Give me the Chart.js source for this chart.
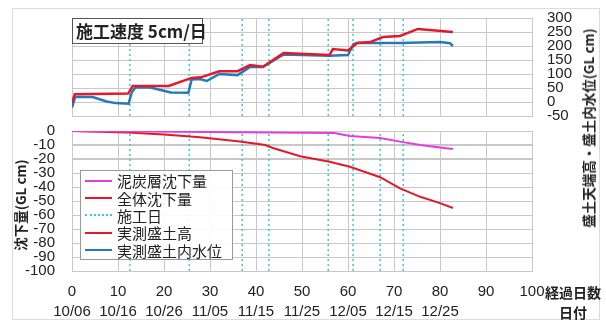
<!DOCTYPE html>
<html>
<head>
<meta charset="utf-8">
<script src="https://cdn.jsdelivr.net/npm/chart.js@4.4.1/dist/chart.umd.min.js"></script>
<style>
  body { margin: 0; background: #fff; }
  #wrap { position: relative; width: 606px; height: 325px; overflow: hidden; font-family: 'Noto Sans CJK JP', sans-serif; color: #222; }
  #frame { position: absolute; left: 12px; top: 8px; width: 588px; height: 312px; border: 1px solid #dcdcdc; box-sizing: border-box; }
  canvas { position: absolute; left: 0; }
  #topChart { top: 0; }
  #bottomChart { top: 120px; }
  .speed { position: absolute; left: 72px; top: 18px; width: 131px; height: 26px; box-sizing: border-box; border: 1px solid #555; background: #fff; font-weight: bold; font-size: 17px; line-height: 24px; padding-left: 3px; white-space: nowrap; }
  .vtitle { position: absolute; transform: translate(-50%, -50%) rotate(-90deg); white-space: nowrap; font-weight: bold; font-size: 13.5px; }
  .xnote { position: absolute; font-weight: bold; font-size: 14px; line-height: 20px; white-space: nowrap; }
  #legend { position: absolute; left: 80px; top: 170px; width: 153px; height: 90px; box-sizing: border-box; border: 1px solid #999; background: rgba(255,255,255,0.9); padding-top: 1px; }
  .item { display: flex; align-items: center; height: 17.4px; font-size: 15px; white-space: nowrap; }
  .sample { display: inline-block; width: 27px; margin: 0 5px 0 4px; border-top-width: 2px; }
</style>
</head>
<body>
<div id="wrap">
  <div id="frame"></div>
  <canvas id="topChart" width="606" height="125"></canvas>
  <canvas id="bottomChart" width="606" height="205"></canvas>
  <div class="speed">施工速度 5cm/日</div>
  <div class="vtitle" style="left:588px;top:128px;">盛土天端高・盛土内水位(GL cm)</div>
  <div class="vtitle" style="left:20px;top:205px;">沈下量(GL cm)</div>
  <div class="xnote" style="left:545px;top:282px;">経過日数</div>
  <div class="xnote" style="left:559px;top:302px;">日付</div>
  <div id="legend"></div>
</div>
<script>
// elapsed days / values
const fillDays = [0, 0.6, 12.2, 13.2, 21, 26, 28, 32, 36, 38.7, 41.5, 46, 56, 56.7, 60, 62, 64.8, 67.6, 71.3, 75.2, 82.8];
const fillHeight = [-3, 28, 30, 57, 57, 86, 88, 110, 110, 132, 126, 175, 168, 189, 184, 211, 214, 232, 236, 261, 250];

const waterDays = [0, 0.7, 4.5, 6, 7.5, 9.5, 12.3, 13, 13.8, 17, 19.5, 21.5, 25.3, 26, 27.8, 29.3, 32, 36, 38.7, 41.5, 46, 56, 60, 61.2, 62, 71.3, 80, 82.2, 82.8];
const waterLevel = [-20, 18, 18, 10, 2, -4, -6, 35, 52, 52, 42, 34, 33, 80, 82, 75, 100, 96, 125, 125, 170, 165, 168, 207, 211, 211, 214, 210, 200];

const totalDays = [0, 12, 20, 27.8, 36.5, 42, 43.5, 49.6, 56, 60.4, 67, 71.3, 75.7, 80, 82.8];
const totalSettle = [0, -1, -2.5, -4.5, -7.5, -10, -12, -18, -22, -25.5, -33, -41, -47, -51.5, -55];

const peatDays = [0, 30, 57, 60.4, 67, 71.3, 75.7, 80, 82.8];
const peatSettle = [0, -0.8, -1.5, -3.6, -5, -7.6, -10, -11.8, -12.9];

const constructionDays = [12.6, 25.5, 37, 42.8, 55.7, 61.1, 67, 72];

const dateLabels = ['10/06', '10/16', '10/26', '11/05', '11/15', '11/25', '12/05', '12/15', '12/25'];

const gridColor = '#c8c8c8';
const magenta = '#e03ee0';
const red = '#e3182a';
const blue = '#2479bd';
const cyan = '#3cc8c8';

Chart.defaults.font.family = "'Liberation Sans', Arial, sans-serif";
Chart.defaults.color = '#222';

const toXY = (xs, ys) => xs.map((x, i) => ({ x: x, y: ys[i] }));
// one dataset, broken by nulls, gives all the dotted day lines
const dayLines = (days, lo, hi) => days.flatMap(d => [{ x: d, y: lo }, { x: d, y: hi }, { x: d, y: null }]);

const xGrid = () => ({ color: gridColor, lineWidth: 1, drawTicks: false });
// y labels are pushed off the plot with invisible tick marks, since ticks.padding
// on a vertical axis also eats into the plot height
const yGrid = len => ({ color: gridColor, lineWidth: 1, drawTicks: true, tickLength: len, tickColor: 'rgba(0,0,0,0)' });
const border = () => ({ color: gridColor });

// horizontal grid lines from the y scale's own ticks
const hLines = {
  id: 'hLines',
  beforeDatasetsDraw(chart) {
    const { ctx, chartArea, scales } = chart;
    ctx.save();
    ctx.strokeStyle = gridColor;
    ctx.lineWidth = 1;
    scales.y.ticks.forEach(t => {
      const y = Math.round(scales.y.getPixelForValue(t.value)) + 0.5;
      ctx.beginPath();
      ctx.moveTo(chartArea.left, y);
      ctx.lineTo(chartArea.right, y);
      ctx.stroke();
    });
    ctx.restore();
  }
};

const topChart = new Chart(document.getElementById('topChart'), {
  type: 'line',
  data: {
    datasets: [
      { label: '実測盛土高', data: toXY(fillDays, fillHeight), borderColor: red, borderWidth: 2.5, order: 1 },
      { label: '実測盛土内水位', data: toXY(waterDays, waterLevel), borderColor: blue, borderWidth: 2.5, order: 2 },
      { label: '施工日', data: dayLines(constructionDays, -50, 300), borderColor: cyan, borderWidth: 1.5, borderDash: [2, 3], order: 10, noLegend: true }
    ]
  },
  options: {
    responsive: false,
    animation: false,
    layout: { padding: { left: 72, right: 0, top: 18, bottom: 9 } },
    elements: { point: { radius: 0 }, line: { tension: 0 } },
    plugins: { legend: { display: false }, tooltip: { enabled: false } },
    scales: {
      x: {
        type: 'linear', min: 0, max: 100,
        ticks: { display: false, stepSize: 10, autoSkip: false },
        grid: xGrid(), border: border(),
        afterFit: s => { s.height = 0; }
      },
      y: {
        position: 'right', min: -50, max: 300,
        ticks: { stepSize: 50, padding: 0, autoSkip: false, font: { size: 15 } },
        grid: yGrid(15), border: border(),
        afterFit: s => { s.width = 74; }
      }
    }
  },
  plugins: [hLines]
});

const bottomChart = new Chart(document.getElementById('bottomChart'), {
  type: 'line',
  data: {
    datasets: [
      { label: '泥炭層沈下量', data: toXY(peatDays, peatSettle), borderColor: magenta, borderWidth: 2, order: 1 },
      { label: '全体沈下量', data: toXY(totalDays, totalSettle), borderColor: red, borderWidth: 2, order: 2 },
      { label: '施工日', data: dayLines(constructionDays, -100, 0), borderColor: cyan, borderWidth: 1.5, borderDash: [2, 3], order: 10 }
    ]
  },
  options: {
    responsive: false,
    animation: false,
    layout: { padding: { left: 0, right: 74, top: 11, bottom: 0 } },
    elements: { point: { radius: 0 }, line: { tension: 0 } },
    plugins: { legend: { display: false }, tooltip: { enabled: false } },
    scales: {
      x: {
        type: 'linear', min: 0, max: 100,
        ticks: {
          stepSize: 10, padding: 11, maxRotation: 0, autoSkip: false,
          font: { size: 15, lineHeight: '20px' },
          callback: v => dateLabels[v / 10] ? [String(v), dateLabels[v / 10]] : String(v)
        },
        grid: xGrid(), border: border(),
        afterFit: s => { s.height = 54; }
      },
      y: {
        min: -100, max: 0,
        ticks: { stepSize: 10, padding: 0, autoSkip: false, font: { size: 15 } },
        grid: yGrid(17), border: border(),
        afterFit: s => { s.width = 72; }
      }
    }
  },
  plugins: [hLines]
});

// legend box shared by both panels
const legendSets = bottomChart.data.datasets.concat(topChart.data.datasets.filter(d => !d.noLegend));
document.getElementById('legend').innerHTML = legendSets.map(d =>
  `<div class="item"><span class="sample" style="border-top-style:${d.borderDash ? 'dotted' : 'solid'};border-top-color:${d.borderColor}"></span>${d.label}</div>`
).join('');
</script>
</body>
</html>
